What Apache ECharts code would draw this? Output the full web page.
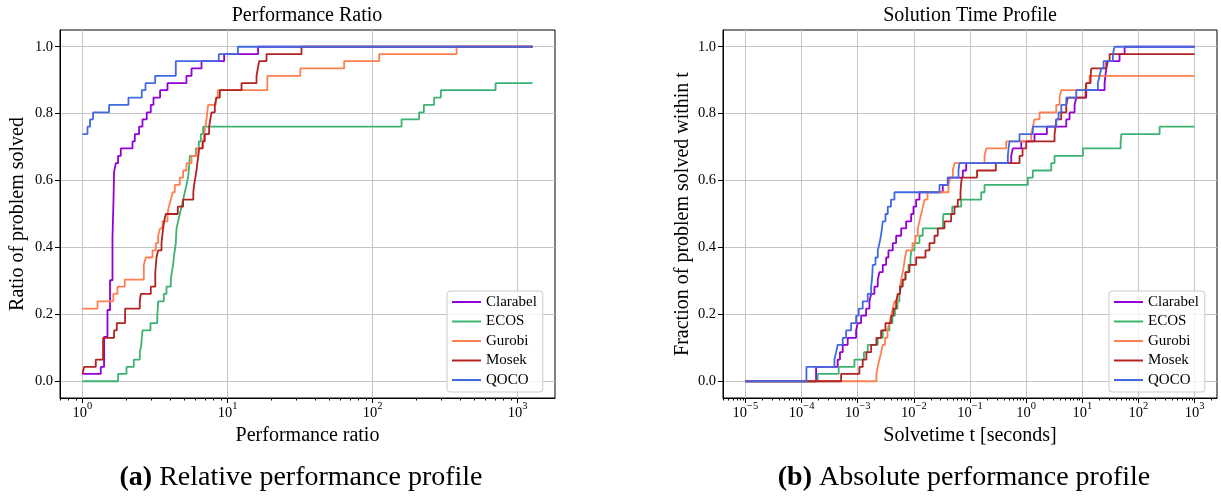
<!DOCTYPE html>
<html>
<head>
<meta charset="utf-8">
<script src="https://cdn.jsdelivr.net/npm/echarts@6/dist/echarts.min.js"></script>
<style>
html, body { margin: 0; padding: 0; background: #fff; }
#chart { width: 1221px; height: 497px; }
</style>
</head>
<body>
<div id="chart"></div>
<script>
// solvers and their colours
const solvers = ['Clarabel', 'ECOS', 'Gurobi', 'Mosek', 'QOCO'];
const solverColors = ['#9400d3', '#3cb371', '#ff7f50', '#b22222', '#4169e1'];

// tick values
const ratioTicks = [1, 10, 100, 1000];
const timeTicks = [1e-5, 1e-4, 1e-3, 1e-2, 1e-1, 1, 10, 100, 1000];
const fractionTicks = [0, 0.2, 0.4, 0.6, 0.8, 1.0];

// (a) performance ratio profile: [ratio, fraction solved]
const ratioClarabel = [[1,0.022],[1.337,0.043],[1.409,0.133],[1.487,0.213],[1.549,0.302],[1.610,0.432],[1.626,0.497],[1.636,0.541],[1.652,0.626],[1.697,0.652],[1.760,0.674],[1.837,0.696],[2.212,0.717],[2.295,0.739],[2.456,0.761],[2.593,0.783],[2.775,0.804],[2.958,0.826],[3.088,0.848],[3.428,0.870],[3.856,0.891],[5.21,0.913],[5.65,0.935],[6.62,0.957],[9.48,0.978],[16.26,1.0],[1268,1.0]];
const ratioECOS = [[1,0],[1.760,0.022],[2.012,0.043],[2.259,0.065],[2.484,0.087],[2.544,0.109],[2.564,0.130],[2.593,0.152],[2.944,0.174],[3.280,0.196],[3.306,0.217],[3.322,0.239],[3.637,0.261],[3.796,0.283],[4.064,0.304],[4.129,0.326],[4.215,0.348],[4.263,0.370],[4.331,0.391],[4.400,0.413],[4.449,0.457],[4.563,0.478],[4.688,0.5],[4.816,0.522],[4.941,0.543],[5.076,0.565],[5.215,0.587],[5.349,0.609],[5.409,0.630],[5.452,0.652],[5.495,0.674],[6.046,0.696],[6.341,0.717],[6.546,0.739],[6.786,0.761],[158.5,0.783],[209.7,0.804],[225.9,0.826],[265.9,0.848],[295.8,0.870],[705.3,0.891],[1268,0.891]];
const ratioGurobi = [[1,0.217],[1.269,0.239],[1.631,0.261],[1.743,0.283],[1.957,0.304],[2.648,0.348],[2.733,0.370],[3.040,0.391],[3.203,0.413],[3.322,0.435],[3.429,0.457],[3.562,0.478],[3.857,0.5],[3.937,0.522],[4.064,0.543],[4.195,0.565],[4.331,0.587],[4.688,0.609],[4.941,0.630],[5.215,0.652],[5.646,0.674],[6.113,0.696],[6.786,0.717],[6.918,0.739],[7.03,0.761],[7.165,0.783],[7.349,0.826],[8.306,0.848],[8.575,0.870],[18.82,0.913],[31.77,0.935],[63.7,0.957],[111.1,0.978],[379.8,1.0],[1268,1.0]];
const ratioMosek = [[1,0.022],[1.026,0.043],[1.235,0.065],[1.387,0.130],[1.652,0.152],[1.724,0.174],[1.967,0.217],[2.484,0.239],[2.524,0.261],[2.958,0.283],[3.177,0.326],[3.238,0.370],[3.322,0.391],[3.506,0.413],[3.551,0.435],[3.596,0.457],[3.654,0.478],[3.753,0.5],[4.542,0.522],[4.941,0.543],[5.809,0.565],[5.884,0.587],[5.997,0.609],[6.113,0.630],[6.191,0.652],[6.290,0.674],[6.371,0.696],[6.723,0.717],[6.973,0.739],[7.467,0.761],[7.611,0.783],[7.757,0.804],[8.175,0.826],[8.398,0.848],[8.850,0.870],[12.49,0.891],[15.85,0.913],[16.18,0.935],[16.52,0.957],[18.58,0.978],[32.37,1.0],[1268,1.0]];
const ratioQOCO = [[1,0.739],[1.083,0.761],[1.128,0.783],[1.183,0.804],[1.525,0.826],[2.076,0.848],[2.564,0.870],[2.72,0.891],[3.17,0.913],[4.40,0.957],[8.71,0.978],[11.8,1.0],[1268,1.0]];

// (b) solve time profile: [seconds, fraction solved]
const timeClarabel = [[1e-5,0],[1.813e-4,0.043],[4.40e-4,0.065],[4.82e-4,0.087],[5.40e-4,0.109],[6.63e-4,0.130],[9.36e-4,0.152],[1.0e-3,0.174],[1.15e-3,0.196],[1.41e-3,0.217],[1.616e-3,0.239],[1.733e-3,0.261],[1.985e-3,0.283],[2.273e-3,0.304],[2.436e-3,0.326],[2.790e-3,0.348],[3.208e-3,0.370],[3.524e-3,0.391],[4.206e-3,0.413],[4.836e-3,0.435],[5.936e-3,0.457],[7.290e-3,0.478],[8.952e-3,0.5],[9.84e-3,0.522],[1.099e-2,0.543],[1.259e-2,0.565],[3.274e-2,0.587],[4.021e-2,0.609],[7.44e-2,0.630],[8.56e-2,0.652],[0.5426,0.674],[0.5793,0.696],[0.818,0.717],[1.411,0.739],[2.339,0.761],[5.186,0.783],[5.938,0.804],[7.292,0.826],[7.82,0.848],[11.78,0.870],[24.98,0.891],[25.8,0.913],[26.78,0.935],[28.6,0.957],[46.2,0.978],[56.8,1.0],[1000,1.0]];
const timeECOS = [[1e-5,0],[1.936e-4,0.022],[4.585e-4,0.043],[8.73e-4,0.065],[1.29e-3,0.087],[1.508e-3,0.109],[2.273e-3,0.130],[2.790e-3,0.152],[3.673e-3,0.174],[4.154e-3,0.196],[4.603e-3,0.217],[5.10e-3,0.239],[5.54e-3,0.261],[5.94e-3,0.283],[6.34e-3,0.304],[7.09e-3,0.326],[8.01e-3,0.348],[8.70e-3,0.370],[9.06e-3,0.391],[1.025e-2,0.413],[1.259e-2,0.435],[1.441e-2,0.457],[3.30e-2,0.478],[3.37e-2,0.5],[4.82e-2,0.522],[6.97e-2,0.543],[0.1583,0.565],[0.1813,0.587],[1.072,0.609],[1.316,0.630],[2.802,0.652],[3.208,0.674],[10.25,0.696],[48.2,0.717],[49.6,0.739],[238.8,0.761],[1000,0.761]];
const timeGurobi = [[1e-5,0],[2.154e-3,0.022],[2.273e-3,0.043],[2.436e-3,0.065],[2.613e-3,0.087],[2.790e-3,0.109],[3.053e-3,0.130],[3.384e-3,0.152],[3.673e-3,0.174],[3.937e-3,0.196],[4.206e-3,0.217],[4.510e-3,0.239],[5.10e-3,0.261],[5.65e-3,0.283],[5.94e-3,0.304],[6.34e-3,0.326],[6.66e-3,0.348],[6.94e-3,0.370],[7.38e-3,0.391],[9.44e-3,0.413],[1.068e-2,0.435],[1.174e-2,0.457],[1.259e-2,0.478],[1.349e-2,0.5],[1.453e-2,0.522],[1.545e-2,0.543],[1.748e-2,0.565],[4.14e-2,0.587],[4.49e-2,0.609],[4.94e-2,0.630],[5.29e-2,0.652],[0.1813,0.674],[0.1944,0.696],[0.4418,0.717],[1.233,0.739],[1.316,0.761],[1.411,0.783],[1.733,0.804],[3.44,0.826],[3.94,0.848],[4.22,0.870],[11.78,0.891],[13.49,0.913],[1000,0.913]];
const timeMosek = [[1e-5,0],[5.06e-4,0.022],[1.072e-3,0.043],[1.228e-3,0.065],[1.429e-3,0.087],[1.733e-3,0.109],[2.154e-3,0.130],[2.613e-3,0.152],[3.118e-3,0.174],[3.937e-3,0.196],[4.328e-3,0.217],[4.836e-3,0.239],[5.206e-3,0.261],[5.654e-3,0.283],[6.34e-3,0.304],[7.09e-3,0.326],[8.35e-3,0.348],[1.099e-2,0.370],[1.609e-2,0.391],[1.897e-2,0.413],[2.33e-2,0.435],[2.667e-2,0.457],[3.51e-2,0.478],[4.62e-2,0.5],[5.29e-2,0.522],[6.06e-2,0.543],[6.77e-2,0.565],[6.91e-2,0.587],[7.14e-2,0.609],[0.1333,0.630],[0.2884,0.652],[0.7627,0.674],[0.8627,0.696],[1.004,0.717],[3.208,0.739],[3.343,0.761],[3.44,0.783],[4.224,0.804],[5.186,0.826],[5.538,0.848],[11.45,0.870],[11.78,0.891],[14.06,0.913],[14.47,0.935],[26.78,0.957],[30.67,0.978],[1000,0.978]];
const timeQOCO = [[1e-5,0],[1.219e-4,0.043],[3.85e-4,0.065],[4.12e-4,0.087],[4.40e-4,0.109],[5.41e-4,0.130],[6.21e-4,0.152],[7.62e-4,0.174],[9.36e-4,0.196],[1.042e-3,0.217],[1.228e-3,0.239],[1.507e-3,0.261],[1.733e-3,0.283],[1.790e-3,0.304],[1.828e-3,0.326],[1.85e-3,0.348],[2.07e-3,0.370],[2.275e-3,0.391],[2.44e-3,0.413],[2.59e-3,0.435],[2.70e-3,0.457],[2.79e-3,0.478],[3.12e-3,0.5],[3.43e-3,0.522],[3.91e-3,0.543],[4.51e-3,0.565],[2.86e-2,0.587],[4.02e-2,0.609],[6.23e-2,0.630],[6.50e-2,0.652],[0.472,0.674],[0.486,0.696],[0.506,0.717],[0.762,0.739],[1.316,0.761],[3.44,0.783],[3.78,0.804],[4.23,0.826],[5.19,0.848],[7.82,0.870],[18.97,0.891],[20.3,0.913],[21.8,0.935],[23.98,0.957],[35.1,0.978],[37.6,1.0],[1000,1.0]];

const ratioData = [ratioClarabel, ratioECOS, ratioGurobi, ratioMosek, ratioQOCO];
const timeData = [timeClarabel, timeECOS, timeGurobi, timeMosek, timeQOCO];

const FONT = '"Liberation Serif", "DejaVu Serif", serif';
const GRIDLINE = '#c4c4c4';
const log = Math.log10;

// x axes are linear in log10 space, so matplotlib style decades and minor ticks can be placed exactly
function toLog(pts) {
	return pts.map(p => [log(p[0]), p[1]]);
}

function minorTicks(lo, hi) {
	let out = [];
	for (let n = Math.floor(lo); n <= Math.ceil(hi); n++) {
		for (let k = 2; k <= 9; k++) {
			let v = n + log(k);
			if (v > lo && v < hi) out.push(v);
		}
	}
	return out;
}

function powLabel(v) {
	let e = Math.round(v);
	return '{b|10}{s|' + (e < 0 ? '\u2212' + (-e) : e) + '}';
}

const labelRich = {
	b: { fontFamily: FONT, fontSize: 14.5, color: '#000', lineHeight: 20, verticalAlign: 'bottom' },
	s: { fontFamily: FONT, fontSize: 10.5, color: '#000', lineHeight: 11, verticalAlign: 'top' }
};

function mainX(gi, lo, hi, ticks, name) {
	let vals = ticks.map(log);
	return {
		type: 'value', gridIndex: gi, position: 'bottom', min: lo, max: hi,
		name: name, nameLocation: 'middle', nameGap: 25,
		nameTextStyle: { fontFamily: FONT, fontSize: 20, color: '#000' },
		axisLine: { show: true, onZero: false, lineStyle: { color: '#000', width: 1 } },
		axisTick: { show: true, customValues: vals, length: 5, lineStyle: { color: '#000', width: 1 } },
		axisLabel: { customValues: vals, formatter: powLabel, margin: 3, rich: labelRich },
		splitLine: { show: true, lineStyle: { color: GRIDLINE, width: 1 } }
	};
}

function minorX(gi, lo, hi) {
	return {
		type: 'value', gridIndex: gi, position: 'bottom', min: lo, max: hi,
		axisLine: { show: false, onZero: false },
		axisLabel: { show: false },
		splitLine: { show: false },
		axisTick: { show: true, customValues: minorTicks(lo, hi), length: 2.5, lineStyle: { color: '#000', width: 1 } }
	};
}

function yAx(gi, name, gap) {
	return {
		type: 'value', gridIndex: gi, min: -0.05, max: 1.05,
		name: name, nameLocation: 'middle', nameGap: gap,
		nameTextStyle: { fontFamily: FONT, fontSize: 20, color: '#000' },
		axisLine: { show: true, onZero: false, lineStyle: { color: '#000', width: 1 } },
		axisTick: { show: true, customValues: fractionTicks, length: 5, lineStyle: { color: '#000', width: 1 } },
		axisLabel: { customValues: fractionTicks, formatter: v => v.toFixed(1), fontFamily: FONT, fontSize: 14.5, color: '#000', margin: 7 },
		splitLine: { show: true, lineStyle: { color: GRIDLINE, width: 1 } }
	};
}

function leg(left, top) {
	return {
		orient: 'vertical', left: left, top: top, data: solvers,
		icon: 'rect', itemWidth: 29, itemHeight: 2, itemGap: 3.5, itemTextGap: 10,
		padding: [3, 6, 4, 5],
		backgroundColor: 'rgba(255,255,255,0.8)', borderColor: '#cccccc', borderWidth: 1, borderRadius: 3,
		textStyle: { fontFamily: FONT, fontSize: 15, color: '#000', lineHeight: 16 },
		selectedMode: false
	};
}

function stepLine(i, pts, xi, yi) {
	return {
		name: solvers[i], type: 'line', step: 'end',
		xAxisIndex: xi, yAxisIndex: yi,
		data: toLog(pts), symbol: 'none', silent: true,
		lineStyle: { color: solverColors[i], width: 1.8 },
		itemStyle: { color: solverColors[i] }
	};
}

function txt(x, y, text, size, rich) {
	return {
		type: 'text', x: x, y: y,
		style: {
			text: text, fill: '#000', fontFamily: FONT, fontSize: size,
			align: 'center', verticalAlign: 'middle', textAlign: 'center', textVerticalAlign: 'middle',
			rich: rich
		}
	};
}

let series = [];
solvers.forEach((s, i) => {
	series.push(stepLine(i, ratioData[i], 0, 0));
	series.push(stepLine(i, timeData[i], 2, 1));
});

const capRich = { bold: { fontFamily: FONT, fontSize: 28, fontWeight: 'bold', color: '#000' } };

let myChart = echarts.init(document.getElementById('chart'));
myChart.setOption({
	animation: false,
	backgroundColor: '#fff',
	grid: [
		{ left: 60, top: 30, width: 495, height: 368, show: true, borderColor: '#000', borderWidth: 1 },
		{ left: 723, top: 30, width: 494, height: 368, show: true, borderColor: '#000', borderWidth: 1 }
	],
	xAxis: [
		mainX(0, -0.155, 3.258, ratioTicks, 'Performance ratio'),
		minorX(0, -0.155, 3.258),
		mainX(1, -5.4, 3.4, timeTicks, 'Solvetime t [seconds]'),
		minorX(1, -5.4, 3.4)
	],
	yAxis: [
		yAx(0, 'Ratio of problem solved', 32),
		yAx(1, 'Fraction of problem solved within t', 30)
	],
	legend: [leg(447, 291), leg(1109, 291)],
	graphic: [
		txt(307, 16, 'Performance Ratio', 20),
		txt(970, 16, 'Solution Time Profile', 20),
		txt(301, 478, '{bold|(a)} Relative performance profile', 28, capRich),
		txt(964, 478, '{bold|(b)} Absolute performance profile', 28, capRich)
	],
	series: series
});
</script>
</body>
</html>
